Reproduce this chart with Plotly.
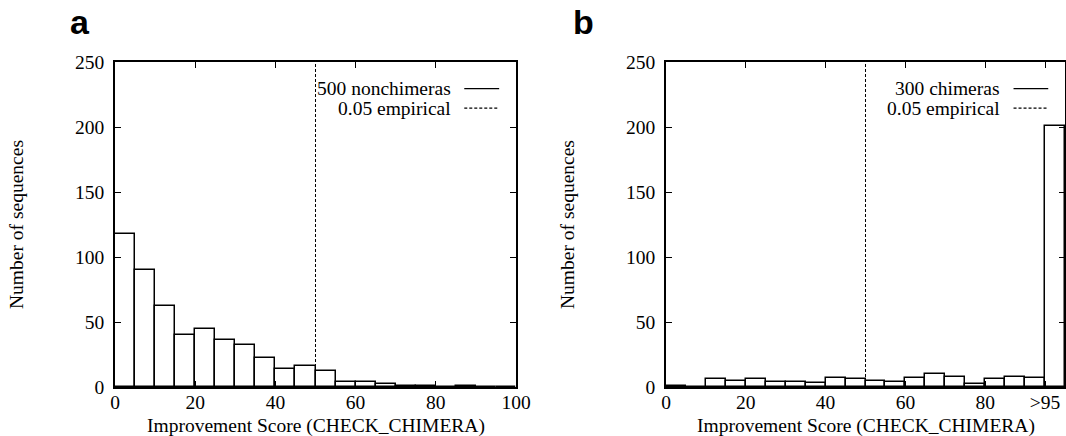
import plotly.graph_objects as go

# ---- data ----
bin_left = [0, 5, 10, 15, 20, 25, 30, 35, 40, 45, 50, 55, 60, 65, 70, 75, 80, 85, 90, 95]
bin_width = 5
counts_nonchimeras = [118, 90, 62, 40, 45, 36, 32, 22, 14, 16, 12, 4, 4, 2, 1, 1, 0, 1, 0, 0]
counts_chimeras = [1, 0, 6, 5, 6, 4, 4, 3, 7, 6, 5, 4, 7, 10, 8, 2, 6, 8, 7, 201]
threshold = 50
xticks_a = [0, 20, 40, 60, 80, 100]
xticklabels_a = ["0", "20", "40", "60", "80", "100"]
xticks_b = [0, 20, 40, 60, 80, 95]
xticklabels_b = ["0", "20", "40", "60", "80", ">95"]
yticks = [0, 50, 100, 150, 200, 250]
legend_a = ["500 nonchimeras", "0.05 empirical"]
legend_b = ["300 chimeras", "0.05 empirical"]
x_title = "Improvement Score (CHECK_CHIMERA)"
y_title = "Number of sequences"

W, H = 1066, 436
SERIF = "Liberation Serif, Times New Roman, serif"
FS = 19.5

fig = go.Figure()
for counts, xa, ya in [(counts_nonchimeras, "x", "y"), (counts_chimeras, "x2", "y2")]:
    fig.add_trace(go.Bar(
        x=bin_left, y=counts, width=bin_width, offset=0,
        marker=dict(color="white", line=dict(color="black", width=1.5)),
        xaxis=xa, yaxis=ya, showlegend=False, hoverinfo="x+y"))

ydom = [1 - 387 / H, 1 - 62 / H]
axis_common = dict(showline=True, linecolor="black", linewidth=1.5, mirror="allticks",
                   ticks="inside", ticklen=6, tickwidth=1.2, tickcolor="black",
                   showgrid=False, zeroline=False,
                   tickfont=dict(family=SERIF, size=FS, color="black"), automargin=False)
ytitle = dict(text=y_title, font=dict(family=SERIF, size=FS, color="black"), standoff=46)

fig.update_layout(
    width=W, height=H, margin=dict(l=0, r=0, t=0, b=0),
    paper_bgcolor="white", plot_bgcolor="white", bargap=0,
    xaxis=dict(domain=[115 / W, 516 / W], range=[0, 100], tickvals=xticks_a, ticktext=xticklabels_a,
               anchor="y", ticklabelstandoff=-3, **axis_common),
    yaxis=dict(domain=ydom, range=[0, 250], tickvals=yticks,
               title=ytitle, anchor="x", ticklabelstandoff=5, **axis_common),
    xaxis2=dict(domain=[666 / W, 1065 / W], range=[0, 100], tickvals=xticks_b, ticktext=xticklabels_b,
                anchor="y2", ticklabelstandoff=-3, **axis_common),
    yaxis2=dict(domain=ydom, range=[0, 250], tickvals=yticks,
                title=ytitle, anchor="x2", ticklabelstandoff=5, **axis_common),
)

for xa, ya, labels in [("x", "y", legend_a), ("x2", "y2", legend_b)]:
    # x-axis title
    fig.add_annotation(text=x_title, xref=xa + " domain", yref="paper", x=0.5, y=1 - 426 / H,
                       xanchor="center", yanchor="middle", showarrow=False,
                       font=dict(family=SERIF, size=FS, color="black"))
    # threshold line
    fig.add_shape(type="line", xref=xa, yref=ya + " domain", x0=threshold, x1=threshold, y0=0, y1=1,
                  line=dict(color="black", width=1, dash="3px,2px"))
    # legend
    for i, (lab, dash) in enumerate(zip(labels, ["solid", "3px,2px"])):
        yy = 0.918 - i * 0.06
        fig.add_annotation(text=lab, xref=xa + " domain", yref=ya + " domain", x=0.842, y=yy,
                           xanchor="right", yanchor="middle", showarrow=False,
                           font=dict(family=SERIF, size=FS, color="black"))
        fig.add_shape(type="line", xref=xa + " domain", yref=ya + " domain", x0=0.871, x1=0.958, y0=yy, y1=yy,
                      line=dict(color="black", width=1.2, dash=dash))

for lab, px in [("a", 80), ("b", 583)]:
    fig.add_annotation(text="<b>%s</b>" % lab, xref="paper", yref="paper", x=px / W, y=1 - 22 / H,
                       xanchor="center", yanchor="middle", showarrow=False,
                       font=dict(family="Liberation Sans, Arial, sans-serif", size=34, color="black"))

fig.write_html("out.html")
